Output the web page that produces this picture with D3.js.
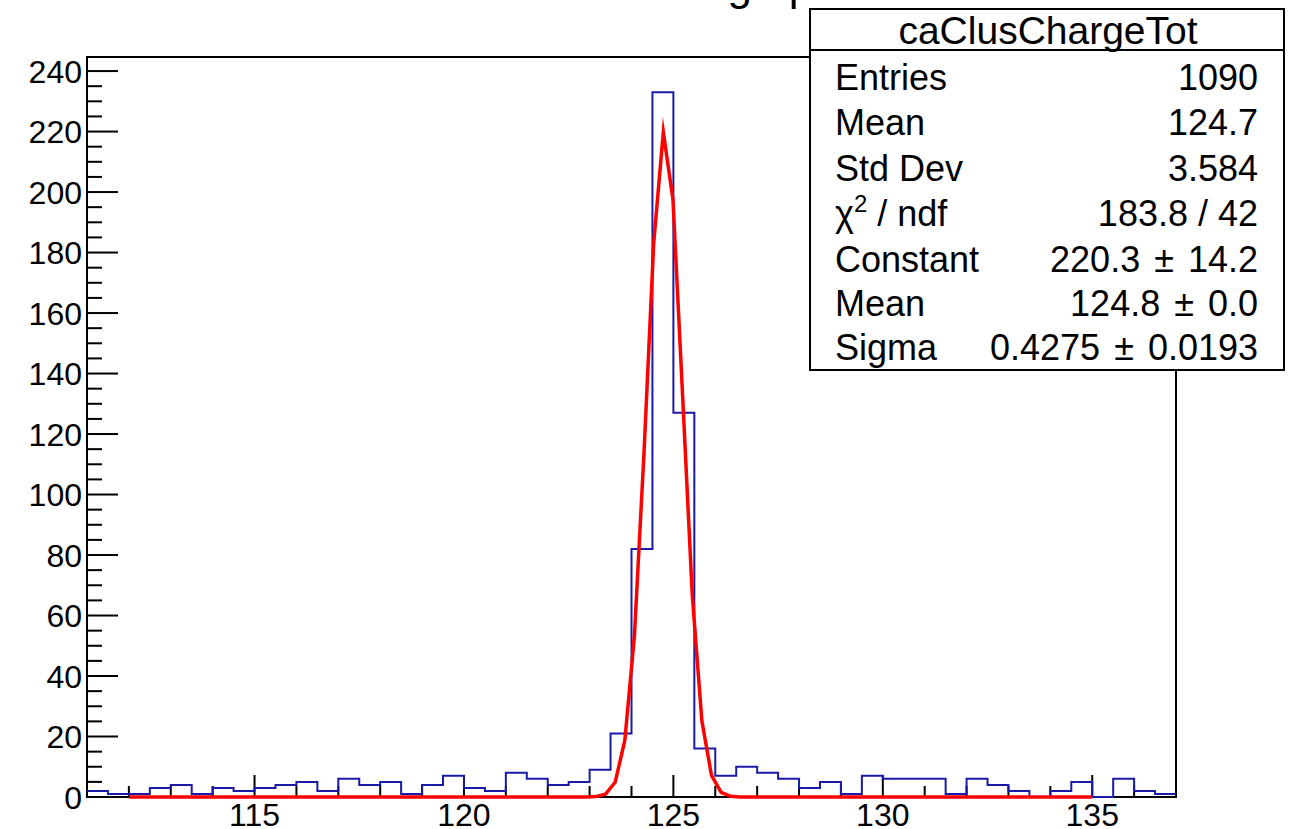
<!DOCTYPE html>
<html><head><meta charset="utf-8">
<script src="https://cdn.jsdelivr.net/npm/d3@7"></script>
<style>body{margin:0;background:#fff;overflow:hidden} svg{display:block}</style>
</head><body><svg id="c" width="1290" height="829"></svg>
<script>
// ---------- data ----------
const xRange = [111, 137];
const binWidth = 0.5;
const counts = [2,1,1,3,4,1,3,2,3,4,5,2,6,4,5,1,4,7,3,2,8,6,4,5,9,21,82,233,127,16,7,10,8,6,3,5,1,7,6,6,6,1,6,4,2,0,2,5,0,6,2,1];
const fitX = [112,122.69,122.92,123.15,123.38,123.61,123.84,124.07,124.30,124.53,124.76,124.99,125.22,125.45,125.68,125.91,126.14,126.37,126.60,126.83,135];
const fitY = [0,0,0.01,0.14,0.96,4.88,18.65,53.3,114.2,183.1,219.8,197.5,132.8,66.9,25.2,7.12,1.50,0.24,0.03,0,0];
const xTicks = [115,120,125,130,135];
const yTicks = [0,20,40,60,80,100,120,140,160,180,200,220,240];
const yMax = 244.65;
const titleText = "Total cluster charge per event";
const statsTitle = "caClusChargeTot";
const statsLabels = ["Entries","Mean","Std Dev","chi2","Constant","Mean","Sigma"];
const statsValues = ["1090","124.7","3.584","183.8 / 42","220.3 \u00b1 14.2","124.8 \u00b1 0.0","0.4275 \u00b1 0.0193"];

// ---------- layout ----------
const L = 87, R = 1176, T = 57, B = 797;
const FONT = "'Liberation Sans', Arial, Helvetica, sans-serif";
const svg = d3.select("#c");
const x = d3.scaleLinear().domain(xRange).range([L, R]);
const y = d3.scaleLinear().domain([0, yMax]).range([B, T]);

// title (clipped at top of canvas, only descenders visible)
svg.append("text").attr("x", 395).attr("y", 0)
  .attr("font-family", FONT).attr("font-size", 44).attr("fill", "#000")
  .text(titleText);

// frame
svg.append("rect").attr("x", L).attr("y", T).attr("width", R - L).attr("height", B - T)
  .attr("fill", "none").attr("stroke", "#000").attr("stroke-width", 2);

// x axis ticks
const xMinor = d3.range(112, 137, 1);
const gx = svg.append("g");
xMinor.forEach(v => {
  const major = xTicks.includes(v);
  gx.append("line").attr("x1", x(v)).attr("x2", x(v)).attr("y1", B).attr("y2", B - (major ? 22 : 11))
    .attr("stroke", "#000").attr("stroke-width", 2);
});
xTicks.forEach(v => {
  gx.append("text").attr("x", x(v)).attr("y", 826).attr("text-anchor", "middle")
    .attr("font-family", FONT).attr("font-size", 32).text(v);
});

// y axis ticks
const gy = svg.append("g");
d3.range(0, 245, 5).forEach(v => {
  const major = v % 20 === 0;
  gy.append("line").attr("x1", L).attr("x2", L + (major ? 31 : 15)).attr("y1", y(v)).attr("y2", y(v))
    .attr("stroke", "#000").attr("stroke-width", 2);
});
yTicks.forEach(v => {
  gy.append("text").attr("x", 82).attr("y", y(v) + 11.5).attr("text-anchor", "end")
    .attr("font-family", FONT).attr("font-size", 32).text(v);
});

// histogram step outline
const pts = [];
counts.forEach((c, i) => {
  const x0 = xRange[0] + i * binWidth, x1 = x0 + binWidth;
  pts.push([x(x0), y(c)], [x(x1), y(c)]);
});
svg.append("path").attr("d", d3.line()(pts)).attr("fill", "none")
  .attr("stroke", "#1a1aa8").attr("stroke-width", 2);

// fit curve
const fitPts = fitX.map((v, i) => [x(v), y(fitY[i])]);
svg.append("path").attr("d", d3.line()(fitPts)).attr("fill", "none")
  .attr("stroke", "#ff0000").attr("stroke-width", 3.5).attr("stroke-linejoin", "miter").attr("stroke-miterlimit", 20);

// stats box
const SX0 = 810, SX1 = 1284, SY0 = 9, SY1 = 370, SH = 50;
const sb = svg.append("g");
sb.append("rect").attr("x", SX0).attr("y", SY0).attr("width", SX1 - SX0).attr("height", SY1 - SY0)
  .attr("fill", "#fff").attr("stroke", "#000").attr("stroke-width", 2);
sb.append("line").attr("x1", SX0).attr("x2", SX1).attr("y1", SH).attr("y2", SH).attr("stroke", "#000").attr("stroke-width", 2);
sb.append("text").attr("x", (SX0 + SX1) / 2 + 1).attr("y", 44).attr("text-anchor", "middle")
  .attr("font-family", FONT).attr("font-size", 39).text(statsTitle);
const rowY = [77, 122, 168, 213, 259, 303, 347];
statsLabels.forEach((lab, i) => {
  const t = sb.append("text").attr("x", 835).attr("y", rowY[i] + 13)
    .attr("font-family", FONT).attr("font-size", 36);
  if (lab === "chi2") {
    t.append("tspan").text("\u03c7");
    t.append("tspan").attr("font-size", 24).attr("dy", -14).text("2");
    t.append("tspan").attr("dy", 14).text(" / ndf");
  } else t.text(lab);
  const v = sb.append("text").attr("x", 1258).attr("y", rowY[i] + 13).attr("text-anchor", "end")
    .attr("font-family", FONT).attr("font-size", 36);
  const parts = statsValues[i].split(" \u00b1 ");
  if (parts.length === 2) {
    v.append("tspan").text(parts[0]);
    v.append("tspan").attr("dx", 14).text("\u00b1");
    v.append("tspan").attr("dx", 14).text(parts[1]);
  } else v.text(statsValues[i]);
});
</script></body></html>
